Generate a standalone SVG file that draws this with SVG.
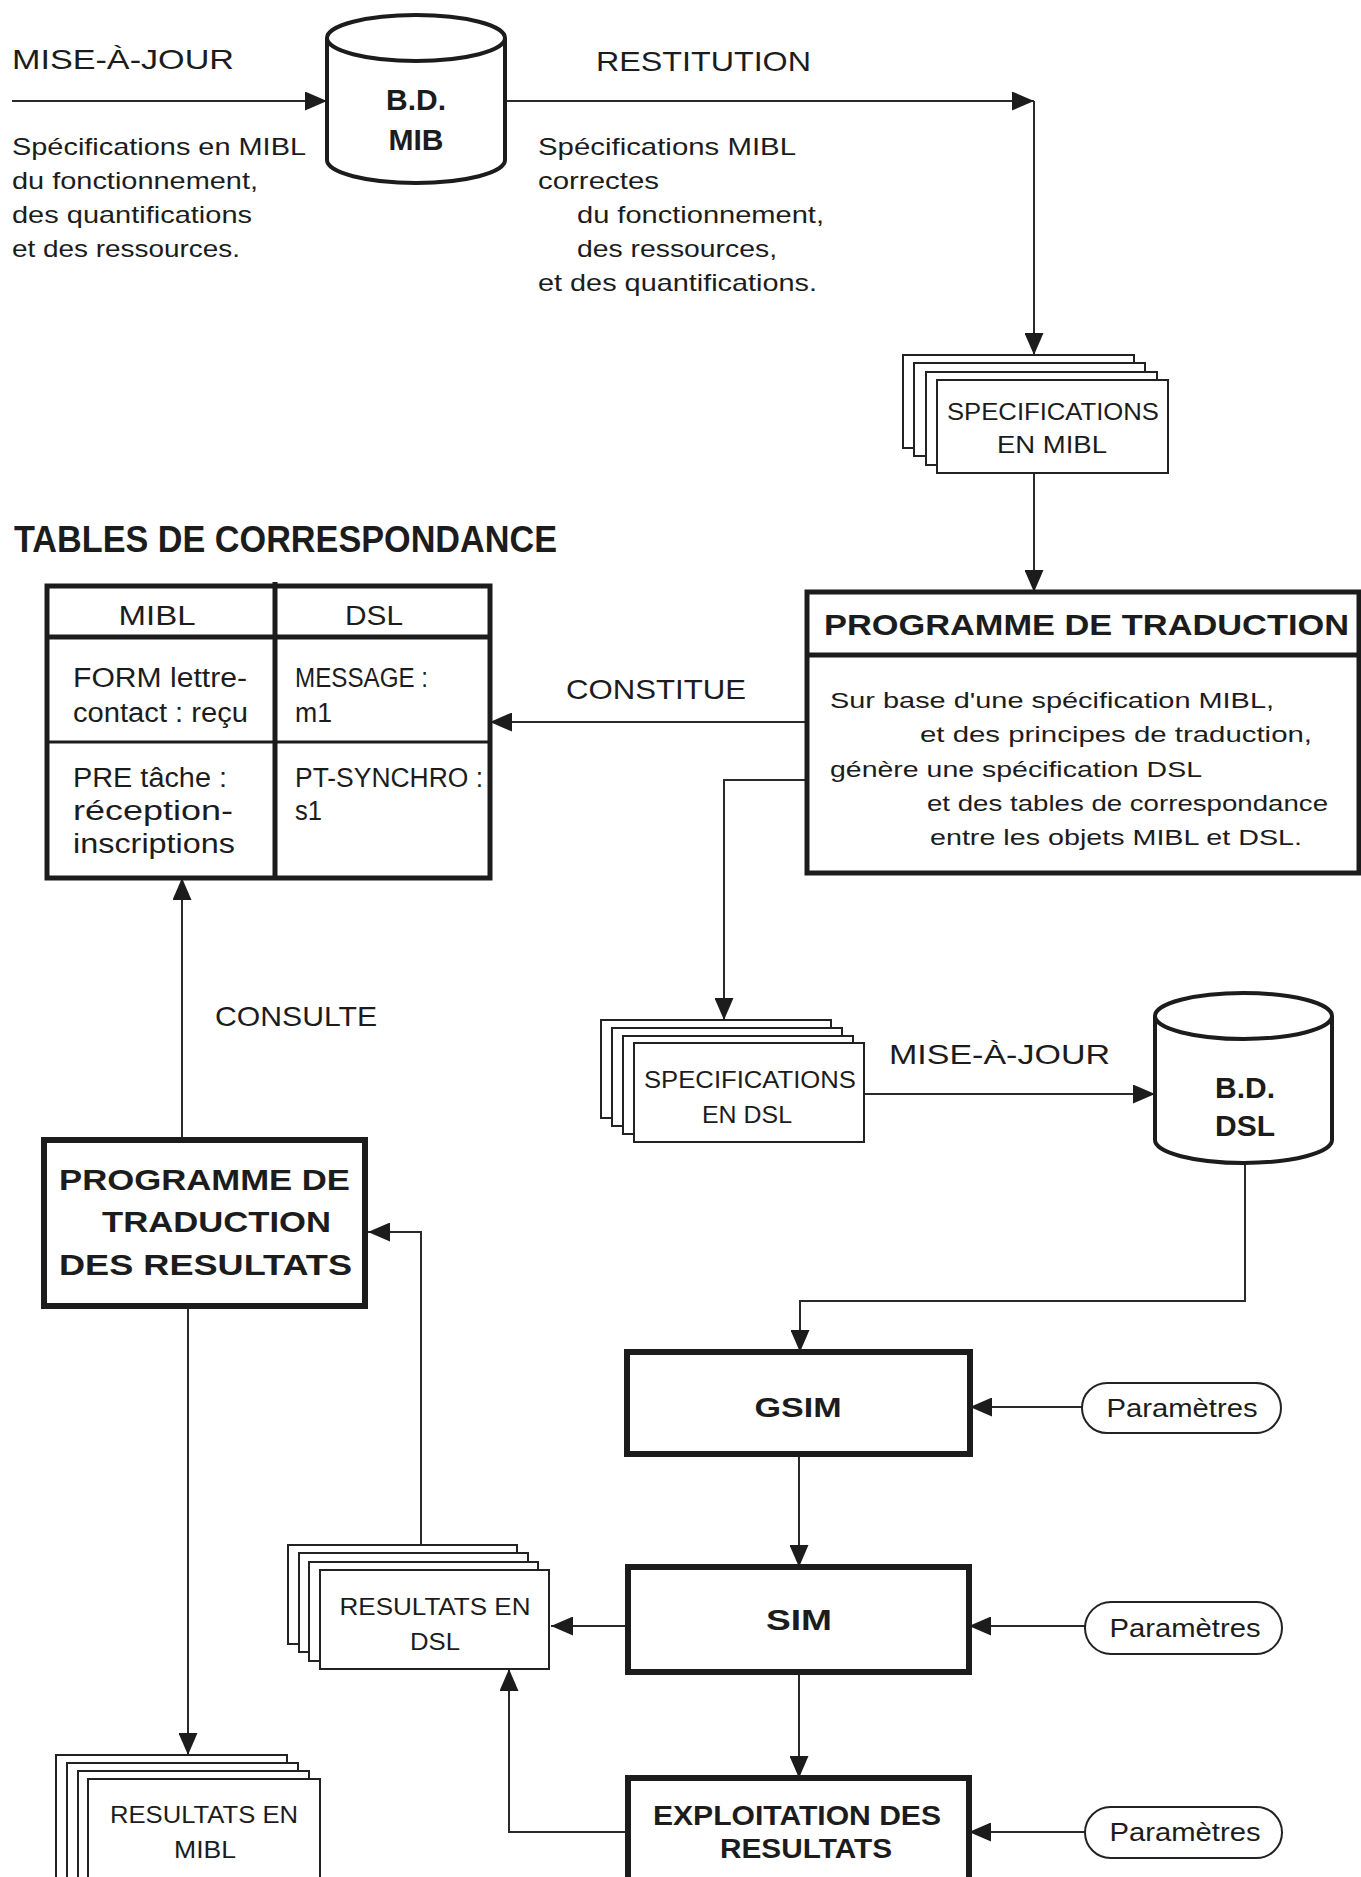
<svg xmlns="http://www.w3.org/2000/svg" width="1361" height="1877" viewBox="0 0 1361 1877">
  <style>
    .t { font-family: "Liberation Sans", Arial, sans-serif; fill: #1c1c1c; }
    .b { font-weight: bold; }
    .m { text-anchor: middle; }
    .conn { fill: none; stroke: #2a2a2a; stroke-width: 2; }
    .page { fill: #ffffff; stroke: #222; stroke-width: 2; }
    .box { fill: #ffffff; stroke: #1c1c1c; stroke-width: 6; }
    .tbl { fill: none; stroke: #1c1c1c; stroke-width: 5; }
    .db { fill: #ffffff; stroke: #1c1c1c; stroke-width: 4; }
    .pill { fill: #ffffff; stroke: #222; stroke-width: 2; }
  </style>
  <defs>
    <marker id="ah" markerUnits="userSpaceOnUse" viewBox="0 0 22 19" markerWidth="22" markerHeight="19" refX="22" refY="9.5" orient="auto">
      <path d="M0,0 L22,9.5 L0,19 Z" fill="#1c1c1c"/>
    </marker>
  </defs>
  <rect width="1361" height="1877" fill="#ffffff"/>

  <!-- connectors -->
  <g id="connectors">
    <path class="conn" d="M12,101 H327" marker-end="url(#ah)"/>
    <path class="conn" d="M505,101 H1034" marker-end="url(#ah)"/>
    <path class="conn" d="M1034,101 V355" marker-end="url(#ah)"/>
    <path class="conn" d="M1034,473 V592" marker-end="url(#ah)"/>
    <path class="conn" d="M807,722 H490" marker-end="url(#ah)"/>
    <path class="conn" d="M807,780 H724 V1020" marker-end="url(#ah)"/>
    <path class="conn" d="M864,1094 H1155" marker-end="url(#ah)"/>
    <path class="conn" d="M1245,1163 V1301 H800 V1352" marker-end="url(#ah)"/>
    <path class="conn" d="M1082,1407 H970" marker-end="url(#ah)"/>
    <path class="conn" d="M799,1454 V1567" marker-end="url(#ah)"/>
    <path class="conn" d="M1085,1626 H969" marker-end="url(#ah)"/>
    <path class="conn" d="M628,1626 H551" marker-end="url(#ah)"/>
    <path class="conn" d="M799,1672 V1778" marker-end="url(#ah)"/>
    <path class="conn" d="M1085,1832 H969" marker-end="url(#ah)"/>
    <path class="conn" d="M628,1832 H509 V1669" marker-end="url(#ah)"/>
    <path class="conn" d="M421,1545 V1232 H368" marker-end="url(#ah)"/>
    <path class="conn" d="M182,1140 V878" marker-end="url(#ah)"/>
    <path class="conn" d="M188,1306 V1755" marker-end="url(#ah)"/>
  </g>

  <!-- connector labels -->
  <g id="labels">
    <text class="t" x="12" y="69" font-size="28" textLength="222" lengthAdjust="spacingAndGlyphs">MISE-À-JOUR</text>
    <text class="t" x="12" y="155" font-size="24" textLength="294" lengthAdjust="spacingAndGlyphs">Spécifications en MIBL</text>
    <text class="t" x="12" y="189" font-size="24" textLength="246" lengthAdjust="spacingAndGlyphs">du fonctionnement,</text>
    <text class="t" x="12" y="223" font-size="24" textLength="240" lengthAdjust="spacingAndGlyphs">des quantifications</text>
    <text class="t" x="12" y="257" font-size="24" textLength="228" lengthAdjust="spacingAndGlyphs">et des ressources.</text>

    <text class="t" x="596" y="71" font-size="28" textLength="215" lengthAdjust="spacingAndGlyphs">RESTITUTION</text>
    <text class="t" x="538" y="155" font-size="24" textLength="258" lengthAdjust="spacingAndGlyphs">Spécifications MIBL</text>
    <text class="t" x="538" y="189" font-size="24" textLength="121" lengthAdjust="spacingAndGlyphs">correctes</text>
    <text class="t" x="577" y="223" font-size="24" textLength="247" lengthAdjust="spacingAndGlyphs">du fonctionnement,</text>
    <text class="t" x="577" y="257" font-size="24" textLength="200" lengthAdjust="spacingAndGlyphs">des ressources,</text>
    <text class="t" x="538" y="291" font-size="24" textLength="279" lengthAdjust="spacingAndGlyphs">et des quantifications.</text>

    <text class="t" x="566" y="699" font-size="28" textLength="180" lengthAdjust="spacingAndGlyphs">CONSTITUE</text>
    <text class="t" x="215" y="1026" font-size="28" textLength="162" lengthAdjust="spacingAndGlyphs">CONSULTE</text>
    <text class="t" x="889" y="1064" font-size="28" textLength="221" lengthAdjust="spacingAndGlyphs">MISE-À-JOUR</text>
  </g>

  <!-- database B.D. MIB -->
  <g id="db-mib">
    <path class="db" d="M327,38 A89,23 0 0 1 505,38 V160 A89,23 0 0 1 327,160 Z"/>
    <path class="db" d="M327,38 A89,23 0 0 0 505,38"/>
    <text class="t b m" x="416" y="110" font-size="30">B.D.</text>
    <text class="t b m" x="416" y="150" font-size="30">MIB</text>
  </g>

  <!-- stack SPECIFICATIONS EN MIBL -->
  <g id="spec-mibl">
    <rect class="page" x="903" y="355" width="231" height="93"/>
    <rect class="page" x="914" y="363" width="231" height="93"/>
    <rect class="page" x="926" y="372" width="231" height="93"/>
    <rect class="page" x="937" y="380" width="231" height="93"/>
    <text class="t m" x="1053" y="420" font-size="23" textLength="212" lengthAdjust="spacingAndGlyphs">SPECIFICATIONS</text>
    <text class="t m" x="1052" y="453" font-size="23" textLength="110" lengthAdjust="spacingAndGlyphs">EN MIBL</text>
  </g>

  <!-- PROGRAMME DE TRADUCTION -->
  <g id="prog-trad">
    <rect x="807" y="592" width="552" height="281" fill="#fff" stroke="#1c1c1c" stroke-width="5"/>
    <line x1="807" y1="655" x2="1359" y2="655" stroke="#1c1c1c" stroke-width="5"/>
    <text class="t b" x="824" y="635" font-size="30" textLength="525" lengthAdjust="spacingAndGlyphs">PROGRAMME DE TRADUCTION</text>
    <text class="t" x="830" y="708" font-size="22" textLength="444" lengthAdjust="spacingAndGlyphs">Sur base d'une spécification MIBL,</text>
    <text class="t" x="920" y="742" font-size="22" textLength="392" lengthAdjust="spacingAndGlyphs">et des principes de traduction,</text>
    <text class="t" x="830" y="777" font-size="22" textLength="372" lengthAdjust="spacingAndGlyphs">génère une spécification DSL</text>
    <text class="t" x="927" y="811" font-size="22" textLength="401" lengthAdjust="spacingAndGlyphs">et des tables de correspondance</text>
    <text class="t" x="930" y="845" font-size="22" textLength="372" lengthAdjust="spacingAndGlyphs">entre les objets MIBL et DSL.</text>
  </g>

  <!-- TABLES DE CORRESPONDANCE -->
  <g id="tables">
    <text class="t b" x="14" y="552" font-size="36" textLength="543" lengthAdjust="spacingAndGlyphs">TABLES DE CORRESPONDANCE</text>
    <rect class="tbl" x="47" y="586" width="443" height="292" fill="#fff"/>
    <line x1="275" y1="582" x2="275" y2="878" stroke="#1c1c1c" stroke-width="5"/>
    <line x1="47" y1="637" x2="490" y2="637" stroke="#1c1c1c" stroke-width="5"/>
    <line x1="47" y1="742" x2="490" y2="742" stroke="#1c1c1c" stroke-width="3"/>
    <text class="t m" x="157" y="625" font-size="28" textLength="77" lengthAdjust="spacingAndGlyphs">MIBL</text>
    <text class="t m" x="374" y="625" font-size="28" textLength="58" lengthAdjust="spacingAndGlyphs">DSL</text>
    <text class="t" x="73" y="687" font-size="27" textLength="174" lengthAdjust="spacingAndGlyphs">FORM lettre-</text>
    <text class="t" x="73" y="722" font-size="27" textLength="175" lengthAdjust="spacingAndGlyphs">contact : reçu</text>
    <text class="t" x="295" y="687" font-size="27" textLength="133" lengthAdjust="spacingAndGlyphs">MESSAGE :</text>
    <text class="t" x="295" y="722" font-size="27" textLength="37" lengthAdjust="spacingAndGlyphs">m1</text>
    <text class="t" x="73" y="787" font-size="27" textLength="154" lengthAdjust="spacingAndGlyphs">PRE tâche :</text>
    <text class="t" x="73" y="820" font-size="27" textLength="160" lengthAdjust="spacingAndGlyphs">réception-</text>
    <text class="t" x="73" y="853" font-size="27" textLength="162" lengthAdjust="spacingAndGlyphs">inscriptions</text>
    <text class="t" x="295" y="787" font-size="27" textLength="188" lengthAdjust="spacingAndGlyphs">PT-SYNCHRO :</text>
    <text class="t" x="295" y="820" font-size="27" textLength="27" lengthAdjust="spacingAndGlyphs">s1</text>
  </g>

  <!-- stack SPECIFICATIONS EN DSL -->
  <g id="spec-dsl">
    <rect class="page" x="601" y="1020" width="230" height="98"/>
    <rect class="page" x="612" y="1028" width="230" height="98"/>
    <rect class="page" x="623" y="1036" width="230" height="98"/>
    <rect class="page" x="634" y="1043" width="230" height="99"/>
    <text class="t m" x="750" y="1088" font-size="23" textLength="212" lengthAdjust="spacingAndGlyphs">SPECIFICATIONS</text>
    <text class="t m" x="747" y="1123" font-size="23" textLength="90" lengthAdjust="spacingAndGlyphs">EN DSL</text>
  </g>

  <!-- database B.D. DSL -->
  <g id="db-dsl">
    <path class="db" d="M1155,1016 A88.5,23 0 0 1 1332,1016 V1140 A88.5,23 0 0 1 1155,1140 Z"/>
    <path class="db" d="M1155,1016 A88.5,23 0 0 0 1332,1016"/>
    <text class="t b m" x="1245" y="1098" font-size="30">B.D.</text>
    <text class="t b m" x="1245" y="1136" font-size="30">DSL</text>
  </g>

  <!-- PROGRAMME DE TRADUCTION DES RESULTATS -->
  <g id="prog-trad-res">
    <rect class="box" x="44" y="1140" width="321" height="166"/>
    <text class="t b" x="59" y="1190" font-size="30" textLength="291" lengthAdjust="spacingAndGlyphs">PROGRAMME  DE</text>
    <text class="t b" x="102" y="1232" font-size="30" textLength="229" lengthAdjust="spacingAndGlyphs">TRADUCTION</text>
    <text class="t b" x="59" y="1275" font-size="30" textLength="293" lengthAdjust="spacingAndGlyphs">DES RESULTATS</text>
  </g>

  <!-- GSIM -->
  <g id="gsim">
    <rect class="box" x="627" y="1352" width="343" height="102"/>
    <text class="t b m" x="798" y="1417" font-size="28" textLength="87" lengthAdjust="spacingAndGlyphs">GSIM</text>
  </g>
  <g id="param-1">
    <rect class="pill" x="1082" y="1383" width="199" height="50" rx="25"/>
    <text class="t m" x="1182" y="1417" font-size="26" textLength="151" lengthAdjust="spacingAndGlyphs">Paramètres</text>
  </g>

  <!-- SIM -->
  <g id="sim">
    <rect class="box" x="628" y="1567" width="341" height="105"/>
    <text class="t b m" x="799" y="1630" font-size="29" textLength="66" lengthAdjust="spacingAndGlyphs">SIM</text>
  </g>
  <g id="param-2">
    <rect class="pill" x="1085" y="1602" width="197" height="52" rx="26"/>
    <text class="t m" x="1185" y="1637" font-size="26" textLength="151" lengthAdjust="spacingAndGlyphs">Paramètres</text>
  </g>

  <!-- stack RESULTATS EN DSL -->
  <g id="res-dsl">
    <rect class="page" x="288" y="1545" width="229" height="99"/>
    <rect class="page" x="299" y="1553" width="229" height="99"/>
    <rect class="page" x="309" y="1562" width="229" height="99"/>
    <rect class="page" x="320" y="1570" width="229" height="99"/>
    <text class="t m" x="435" y="1615" font-size="24" textLength="191" lengthAdjust="spacingAndGlyphs">RESULTATS EN</text>
    <text class="t m" x="435" y="1650" font-size="24" textLength="50" lengthAdjust="spacingAndGlyphs">DSL</text>
  </g>

  <!-- EXPLOITATION DES RESULTATS -->
  <g id="exploitation">
    <rect class="box" x="628" y="1778" width="341" height="130"/>
    <text class="t b m" x="797" y="1825" font-size="27" textLength="288" lengthAdjust="spacingAndGlyphs">EXPLOITATION DES</text>
    <text class="t b m" x="806" y="1858" font-size="27" textLength="172" lengthAdjust="spacingAndGlyphs">RESULTATS</text>
  </g>
  <g id="param-3">
    <rect class="pill" x="1085" y="1807" width="197" height="51" rx="25.5"/>
    <text class="t m" x="1185" y="1841" font-size="26" textLength="151" lengthAdjust="spacingAndGlyphs">Paramètres</text>
  </g>

  <!-- stack RESULTATS EN MIBL -->
  <g id="res-mibl">
    <rect class="page" x="56" y="1755" width="231" height="140"/>
    <rect class="page" x="67" y="1763" width="231" height="140"/>
    <rect class="page" x="78" y="1771" width="231" height="140"/>
    <rect class="page" x="88" y="1779" width="232" height="140"/>
    <text class="t m" x="204" y="1823" font-size="24" textLength="188" lengthAdjust="spacingAndGlyphs">RESULTATS EN</text>
    <text class="t m" x="205" y="1858" font-size="24" textLength="62" lengthAdjust="spacingAndGlyphs">MIBL</text>
  </g>
</svg>
